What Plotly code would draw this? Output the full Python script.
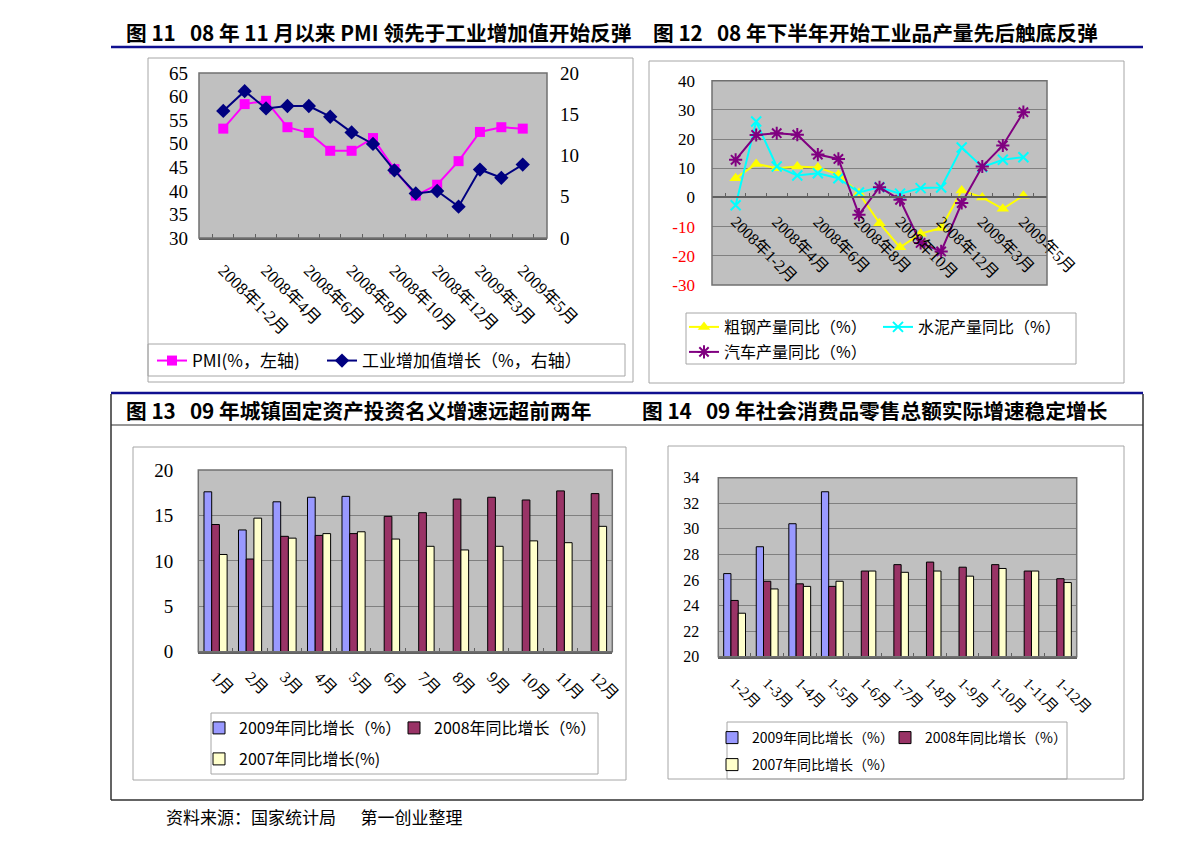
import plotly.graph_objects as go

W, H = 1191, 846


def px(x):
    return x / W


def py(y):
    return 1 - y / H


# ---------------- data ----------------
months15 = ["2008年1-2月", "2008年3月", "2008年4月", "2008年5月", "2008年6月", "2008年7月",
            "2008年8月", "2008年9月", "2008年10月", "2008年11月", "2008年12月",
            "2009年1-2月", "2009年3月", "2009年4月", "2009年5月"]
pmi = [53.2, 58.4, 59.1, 53.5, 52.3, 48.5, 48.5, 51.2, 44.6, 39.0, 41.3, 46.3, 52.5, 53.5, 53.2]
iva = [15.4, 17.8, 15.7, 16.0, 16.0, 14.7, 12.8, 11.4, 8.2, 5.4, 5.7, 3.8, 8.3, 7.3, 8.9]

steel = [6.6, 11.5, 10.0, 10.6, 10.3, 7.8, 1.5, -8.8, -17.1, -12.4, -10.5, 2.4, 0.0, -3.9, 0.6]
cement = [-2.7, 26.0, 10.6, 7.5, 8.3, 6.6, 1.7, 3.5, 1.3, 3.2, 3.4, 17.1, 10.4, 12.9, 13.8]
auto = [12.9, 21.4, 22.0, 21.5, 14.7, 13.2, -5.9, 3.5, -0.8, -15.6, -18.5, -1.9, 10.6, 17.8, 29.2]

months12 = ["1月", "2月", "3月", "4月", "5月", "6月", "7月", "8月", "9月", "10月", "11月", "12月"]
fai09 = [17.6, 13.4, 16.5, 17.0, 17.1, None, None, None, None, None, None, None]
fai08 = [14.0, 10.2, 12.7, 12.8, 13.0, 14.9, 15.3, 16.8, 17.0, 16.7, 17.7, 17.4]
fai07 = [10.7, 14.7, 12.5, 13.0, 13.2, 12.4, 11.6, 11.2, 11.6, 12.2, 12.0, 13.8]

cum11 = ["1-2月", "1-3月", "1-4月", "1-5月", "1-6月", "1-7月", "1-8月", "1-9月",
         "1-10月", "1-11月", "1-12月"]
rs09 = [26.5, 28.6, 30.4, 32.9, None, None, None, None, None, None, None]
rs08 = [24.4, 25.9, 25.7, 25.5, 26.7, 27.2, 27.4, 27.0, 27.2, 26.7, 26.1]
rs07 = [23.4, 25.3, 25.5, 25.9, 26.7, 26.6, 26.7, 26.3, 26.9, 26.7, 25.8]

ticks_left1 = [30, 35, 40, 45, 50, 55, 60, 65]
ticks_right1 = [0, 5, 10, 15, 20]
ticks2 = [-30, -20, -10, 0, 10, 20, 30, 40]
ticks3 = [0, 5, 10, 15, 20]
ticks4 = [20, 22, 24, 26, 28, 30, 32, 34]

titles = [
    ("图 11\u00a0\u00a0\u00a008 年 11 月以来 PMI 领先于工业增加值开始反弹", 124, 32),
    ("图 12\u00a0\u00a0\u00a008 年下半年开始工业品产量先后触底反弹", 651, 32),
    ("图 13\u00a0\u00a0\u00a009 年城镇固定资产投资名义增速远超前两年", 124, 410),
    ("图 14\u00a0\u00a0\u00a009 年社会消费品零售总额实际增速稳定增长", 640, 410),
]
footer = "资料来源：国家统计局\u3000\u00a0\u00a0第一创业整理"

# ---------------- styles ----------------
CJK = "Noto Sans CJK SC"
NUM = "Liberation Serif, Noto Sans CJK SC"
PLOTBG = "#C0C0C0"
GRID = "#808080"
C09, C08, C07 = "#9999FF", "#993366", "#FFFFCC"

dom1x = [px(199), px(547)]
dom1y = [py(238), py(73)]
dom2x = [px(712), px(1047)]
dom2y = [py(285), py(80.7)]
dom3x = [px(198.3), px(612.3)]
dom3y = [py(651.7), py(470)]
dom4x = [px(718.3), px(1076.7)]
dom4y = [py(656.7), py(477.7)]

fig = go.Figure()

# chart 1
fig.add_trace(go.Scatter(x=months15, y=pmi, name="PMI(%，左轴)", mode="lines+markers",
                         line=dict(color="#FF00FF", width=2),
                         marker=dict(symbol="square", size=10, color="#FF00FF"),
                         xaxis="x", yaxis="y", legend="legend"))
fig.add_trace(go.Scatter(x=months15, y=iva, name="工业增加值增长（%，右轴）", mode="lines+markers",
                         line=dict(color="#000080", width=2),
                         marker=dict(symbol="diamond", size=11, color="#000080"),
                         xaxis="x", yaxis="y2", legend="legend2"))

# chart 2
fig.add_trace(go.Scatter(x=months15, y=steel, name="粗钢产量同比（%）", mode="lines+markers",
                         line=dict(color="#FFFF00", width=2),
                         marker=dict(symbol="triangle-up", size=11, color="#FFFF00"),
                         xaxis="x2", yaxis="y3", legend="legend3"))
fig.add_trace(go.Scatter(x=months15, y=cement, name="水泥产量同比（%）", mode="lines+markers",
                         line=dict(color="#00FFFF", width=2),
                         marker=dict(symbol="x-thin", size=10, color="#00FFFF",
                                     line=dict(color="#00FFFF", width=2)),
                         xaxis="x2", yaxis="y3", legend="legend4"))
fig.add_trace(go.Scatter(x=months15, y=auto, name="汽车产量同比（%）", mode="lines+markers",
                         line=dict(color="#800080", width=2),
                         marker=dict(symbol="asterisk", size=11, color="#800080",
                                     line=dict(color="#800080", width=2)),
                         xaxis="x2", yaxis="y3", legend="legend5"))

# chart 3
for vals, nm, col, lg in [(fai09, "2009年同比增长（%）", C09, "legend6"),
                          (fai08, "2008年同比增长（%）", C08, "legend7"),
                          (fai07, "2007年同比增长(%)", C07, "legend8")]:
    fig.add_trace(go.Bar(x=months12, y=vals, name=nm, marker=dict(color=col, line=dict(color="black", width=1)),
                         xaxis="x3", yaxis="y4", legend=lg))

# chart 4
for vals, nm, col, lg in [(rs09, "2009年同比增长（%）", C09, "legend9"),
                          (rs08, "2008年同比增长（%）", C08, "legend10"),
                          (rs07, "2007年同比增长（%）", C07, "legend11")]:
    fig.add_trace(go.Bar(x=cum11, y=vals, name=nm, marker=dict(color=col, line=dict(color="black", width=1)),
                         xaxis="x4", yaxis="y5", legend=lg))


def leg(x, y, size=15):
    return dict(x=px(x), y=py(y), xanchor="left", yanchor="middle", orientation="h",
                bgcolor="rgba(0,0,0,0)", borderwidth=0,
                font=dict(family=CJK, size=size, color="black"))


def xcat(dom, anchor, cats, show_every=1, size=14, standoff=10):
    return dict(domain=dom, anchor=anchor, type="category", categoryorder="array", categoryarray=cats,
                tickmode="array", tickvals=cats,
                ticktext=[c if i % show_every == 0 else "" for i, c in enumerate(cats)],
                tickangle=45, tickson="boundaries", ticks="inside", ticklen=4, tickcolor="#606060",
                showgrid=False, showline=True, linecolor="#606060", linewidth=1.5,
                tickfont=dict(family=NUM, size=size, color="black"), ticklabelstandoff=standoff,
                fixedrange=True, automargin=False)


def ynum(dom, anchor, rng, tv, size, grid, standoff, side="left", ttext=None):
    d = dict(domain=dom, anchor=anchor, range=rng, tickmode="array", tickvals=tv,
             ticktext=ttext if ttext else [str(v) for v in tv], side=side,
             showgrid=grid, gridcolor=GRID, gridwidth=1, zeroline=False, showline=False,
             ticks="", tickfont=dict(family=NUM, size=size, color="black"),
             ticklabelstandoff=standoff, fixedrange=True, automargin=False)
    return d


# y=0 position on chart 2
zero_frac = dom2y[0] + (0 - (-30)) / 70 * (dom2y[1] - dom2y[0])
x2 = xcat(dom2x, "free", months15, show_every=2, size=16, standoff=8)
x2["position"] = zero_frac

ttext2 = [('<span style="color:#FF0000">%d</span>' % v) if v < 0 else str(v) for v in ticks2]

fig.update_layout(
    template="none",
    width=W, height=H, margin=dict(l=0, r=0, t=0, b=0, pad=0, autoexpand=False), autosize=False,
    paper_bgcolor="white", plot_bgcolor=PLOTBG, showlegend=True,
    barmode="group", bargap=0.33, bargroupgap=0,
    xaxis=xcat(dom1x, "y", months15, show_every=2, size=17, standoff=14),
    yaxis=ynum(dom1y, "x", [30, 65], ticks_left1, 19, False, 10),
    yaxis2=dict(ynum(dom1y, "x", [0, 20], ticks_right1, 19, False, 12, side="right"), overlaying="y"),
    xaxis2=x2,
    yaxis3=ynum(dom2y, "x2", [-30, 40], ticks2, 17, True, 16, ttext=ttext2),
    xaxis3=xcat(dom3x, "y4", months12, size=16, standoff=8),
    yaxis4=ynum(dom3y, "x3", [0, 20], ticks3, 19, True, 24),
    xaxis4=xcat(dom4x, "y5", cum11, size=15, standoff=10),
    yaxis5=ynum(dom4y, "x4", [20, 34], ticks4, 16, True, 18),
    legend=leg(152, 361, 17),
    legend2=leg(322, 361, 17),
    legend3=leg(684, 327, 16),
    legend4=leg(878, 327, 16),
    legend5=leg(684, 352, 16),
    legend6=leg(199, 728, 16),
    legend7=leg(394, 728, 16),
    legend8=leg(199, 759, 16),
    legend9=leg(712, 738, 14),
    legend10=leg(885, 738, 14),
    legend11=leg(712, 765, 14),
)

shapes = []


def rect(x0, y0, x1, y1, color="#A6A6A6", width=1):
    shapes.append(dict(type="rect", xref="paper", yref="paper", x0=px(x0), y0=py(y0), x1=px(x1), y1=py(y1),
                       line=dict(color=color, width=width), fillcolor="rgba(0,0,0,0)", layer="above"))


def line(x0, y0, x1, y1, color, width):
    shapes.append(dict(type="line", xref="paper", yref="paper", x0=px(x0), y0=py(y0), x1=px(x1), y1=py(y1),
                       line=dict(color=color, width=width), layer="above"))


NAVY = "#101090"
line(111, 47, 1143, 47, NAVY, 2.5)
line(111, 393, 1143, 393, NAVY, 2.5)
line(111, 394, 111, 800, "#303030", 1.5)
line(1143, 394, 1143, 800, "#303030", 1.5)
line(111, 425, 1143, 425, "#303030", 1.2)
line(111, 800, 1143, 800, "#303030", 1.5)

# chart frames
rect(148, 58, 633, 382)
rect(649, 61, 1124, 383)
rect(133, 447, 626, 780)
rect(668, 446, 1124, 779)
# legend frames
rect(148, 344, 625, 376)
rect(686, 313, 1076, 364)
rect(211, 713, 598, 774)
rect(727, 722, 1067, 779)

# plot area borders
for ax in ["x", "x2", "x3", "x4"]:
    ya = {"x": "y", "x2": "y3", "x3": "y4", "x4": "y5"}[ax]
    shapes.append(dict(type="rect", xref=ax + " domain", yref=ya + " domain", x0=0, y0=0, x1=1, y1=1,
                       line=dict(color="#707070", width=1.5), fillcolor="rgba(0,0,0,0)", layer="above"))

annotations = []
for txt, x, y in titles:
    annotations.append(dict(text="<b>" + txt + "</b>", x=px(x), y=py(y), xref="paper", yref="paper",
                            xanchor="left", yanchor="middle", showarrow=False,
                            font=dict(family=CJK, size=20.7, color="black")))
annotations.append(dict(text=footer, x=px(164), y=py(816), xref="paper", yref="paper",
                        xanchor="left", yanchor="middle", showarrow=False,
                        font=dict(family=CJK, size=17, color="black")))

fig.update_layout(shapes=shapes, annotations=annotations)

post = ("document.body.style.margin='0';")
fig.write_html("out.html", config={"displayModeBar": False}, post_script=post)
